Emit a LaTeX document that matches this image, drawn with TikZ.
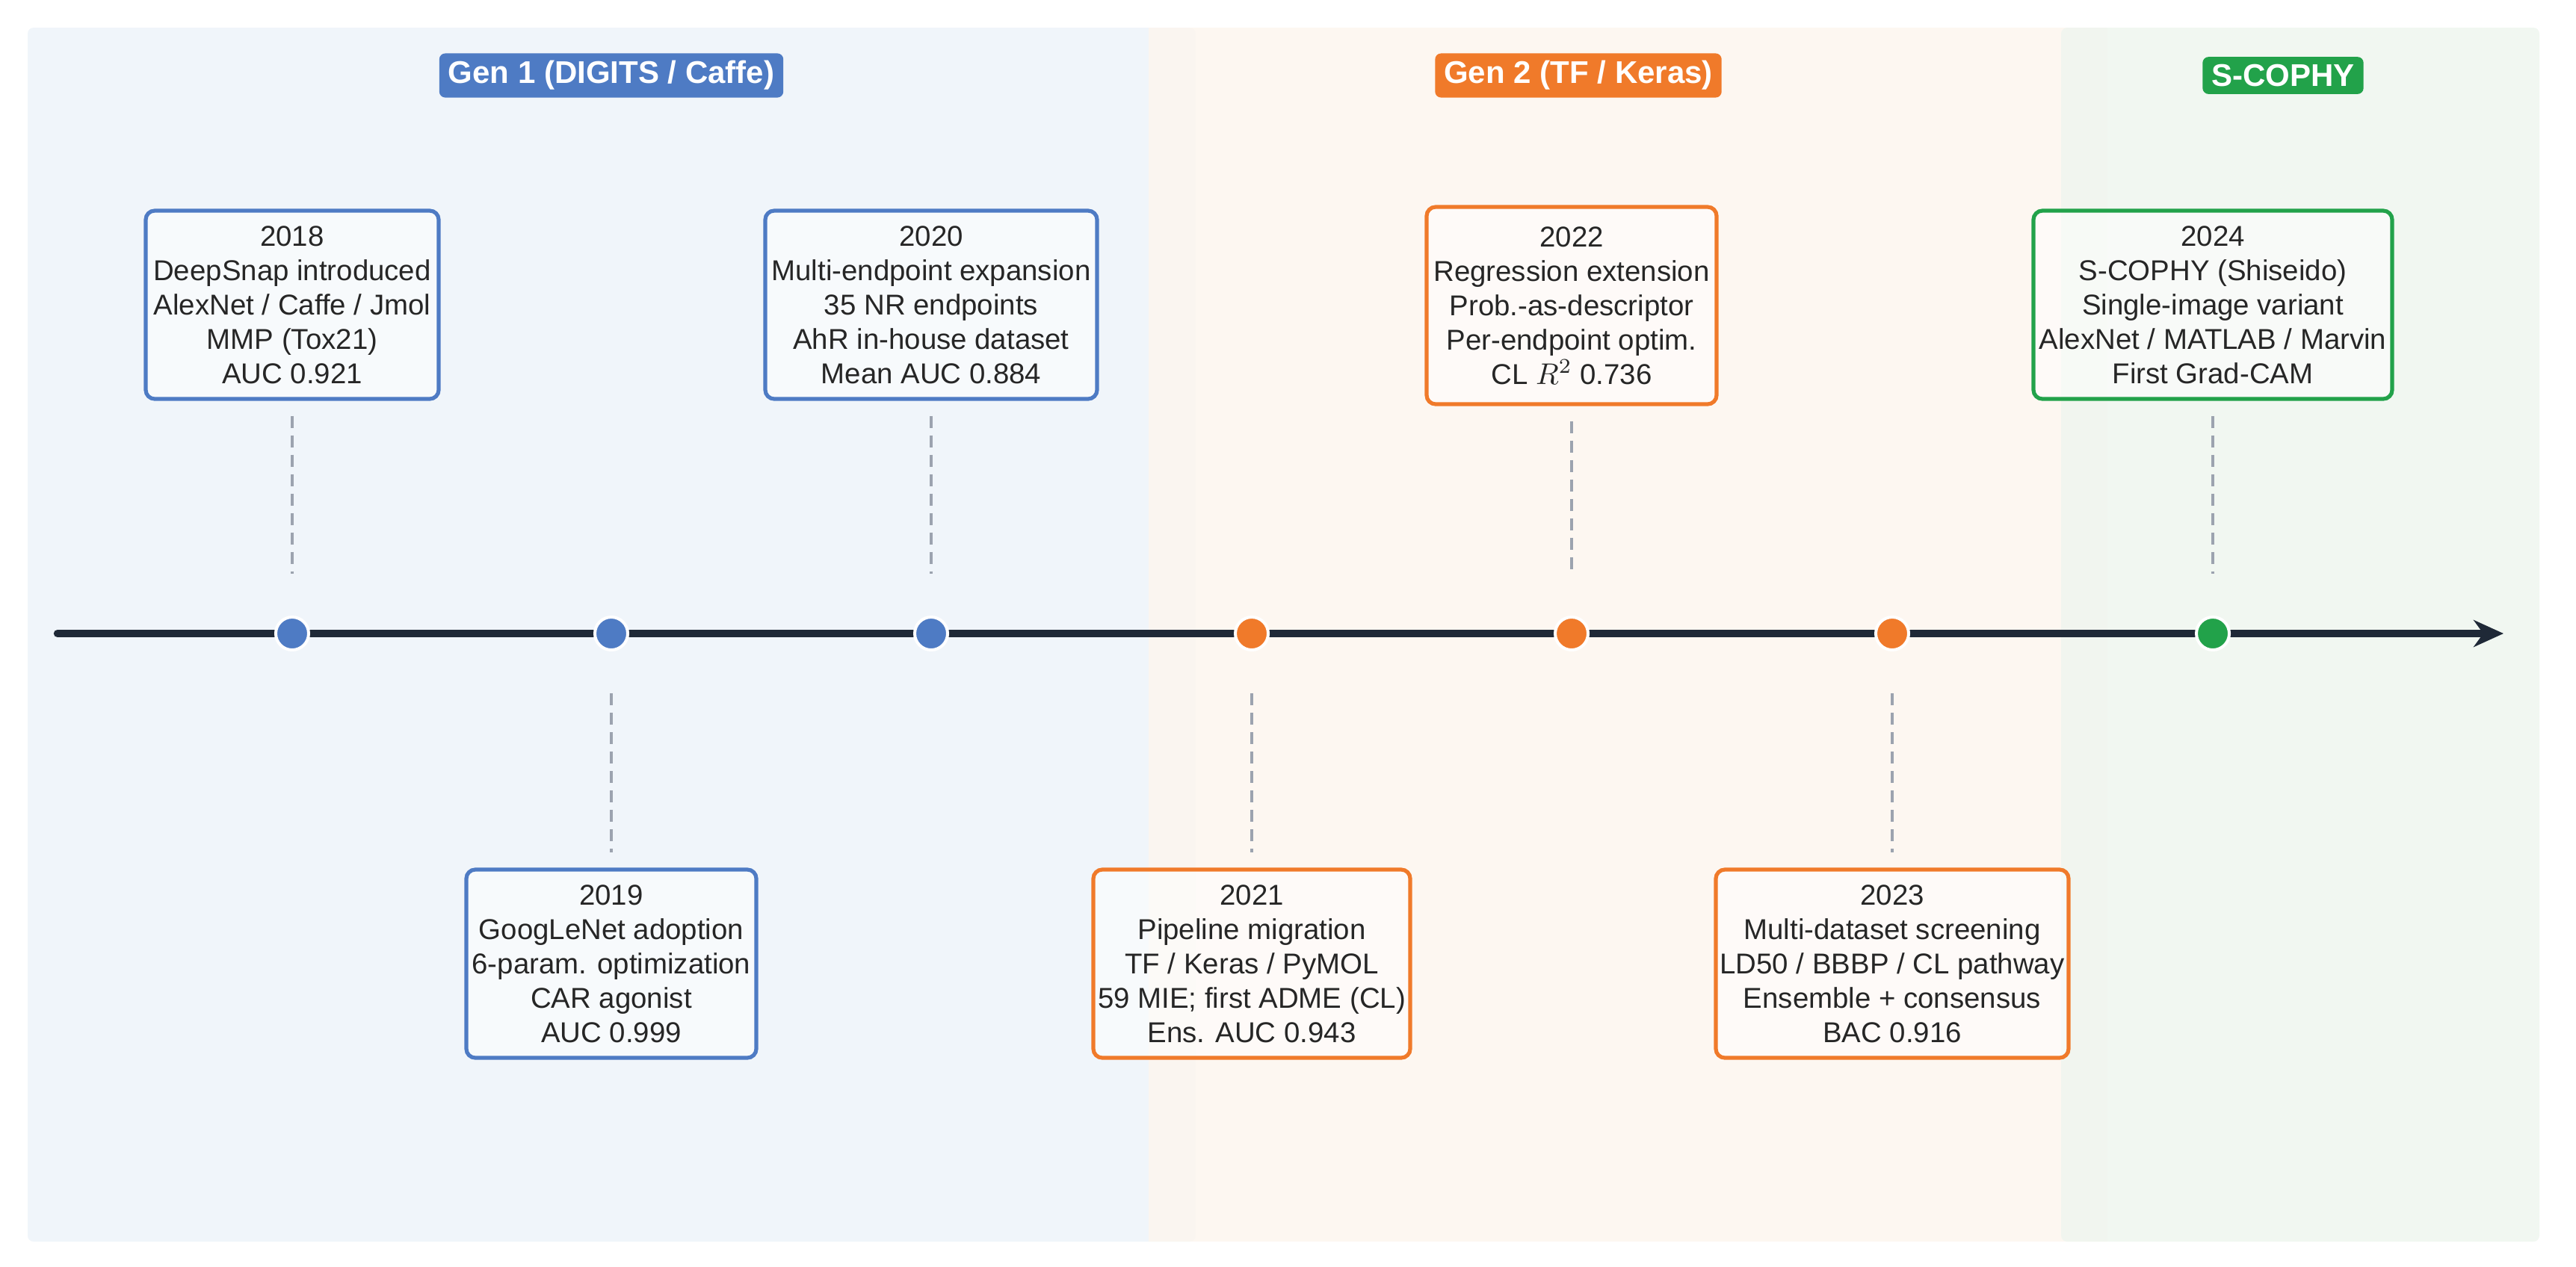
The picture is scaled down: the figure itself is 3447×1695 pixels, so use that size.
\documentclass[tikz,border=0pt]{standalone}
\usepackage{fontspec}
\setmainfont{Liberation Sans}
\usetikzlibrary{arrows.meta}
\definecolor{cblue}{HTML}{4E7BC4}
\definecolor{corange}{HTML}{F07A2A}
\definecolor{cgreen}{HTML}{22A24A}
\definecolor{bblue}{HTML}{F0F5FA}
\definecolor{borange}{HTML}{FDF5EE}
\definecolor{bgreen}{HTML}{EEF5EE}
\definecolor{cdark}{HTML}{1F2937}
\definecolor{cgrey}{HTML}{9CA3AF}
\tikzset{
  ev/.style={draw=#1, line width=1.3pt, rounded corners=3pt, fill=white, fill opacity=0.5, text opacity=1, align=center, font=\fontsize{9.6}{11.5}\selectfont, text=black!85, inner sep=0pt},
  dot/.style={circle, fill=#1, draw=white, line width=1pt, minimum size=11pt, inner sep=0pt},
  tag/.style={fill=#1, text=white, rounded corners=2pt, font=\bfseries\fontsize{10.5}{12}\selectfont, inner xsep=3pt, inner ysep=2.5pt},
  con/.style={cgrey, line width=0.9pt, dash pattern=on 4pt off 2.5pt},
}
\begin{document}
\begin{tikzpicture}[x=0.25pt,y=-0.25pt]
\useasboundingbox (0,0) rectangle (3447,1695);
\fill[bblue, rounded corners=2pt] (37,37) rectangle (1600,1662);
\fill[borange, opacity=0.8] (1537,37) rectangle (2820,1662);
\fill[bgreen, opacity=0.8, rounded corners=2pt] (2758,37) rectangle (3398,1662);
\node[tag=cblue] (g1) at (818,101) {Gen 1 (DIGITS / Caffe)};
\node[tag=corange] (g2) at (2112,101) {Gen 2 (TF / Keras)};
\node[tag=cgreen] (g3) at (3055,101) {S-COPHY};
\coordinate (ls) at (77,848);
\coordinate (le) at (3350,848);
\draw[cdark, line width=2.6pt, line cap=round, -{Stealth[length=10pt,width=9pt]}] (ls) -- (le);
\node[dot=cblue] (d1) at (391,848) {};
\node[dot=cblue] (d2) at (818,848) {};
\node[dot=cblue] (d3) at (1246,848) {};
\node[dot=corange] (d4) at (1675,848) {};
\node[dot=corange] (d5) at (2103,848) {};
\node[dot=corange] (d6) at (2532,848) {};
\node[dot=cgreen] (d7) at (2961,848) {};
\node[ev=cblue, minimum width=98pt, minimum height=63pt] (b1) at (391,408) {2018\\DeepSnap introduced\\AlexNet / Caffe / Jmol\\MMP (Tox21)\\AUC 0.921};
\node[ev=cblue, minimum width=111pt, minimum height=63pt] (b3) at (1246,408) {2020\\Multi-endpoint expansion\\35 NR endpoints\\AhR in-house dataset\\Mean AUC 0.884};
\node[ev=corange, minimum width=97pt, minimum height=66pt] (b5) at (2103,409) {2022\\Regression extension\\Prob.-as-descriptor\\Per-endpoint optim.\\CL $R^2$ 0.736};
\node[ev=cgreen, minimum width=120pt, minimum height=63pt] (b7) at (2961,408) {2024\\S-COPHY (Shiseido)\\Single-image variant\\AlexNet / MATLAB / Marvin\\First Grad-CAM};
\node[ev=cblue, minimum width=97pt, minimum height=63pt] (b2) at (818,1290) {2019\\GoogLeNet adoption\\6-param. optimization\\CAR agonist\\AUC 0.999};
\node[ev=corange, minimum width=106pt, minimum height=63pt] (b4) at (1675,1290) {2021\\Pipeline migration\\TF / Keras / PyMOL\\59 MIE; first ADME (CL)\\Ens. AUC 0.943};
\node[ev=corange, minimum width=118pt, minimum height=63pt] (b6) at (2532,1290) {2023\\Multi-dataset screening\\LD50 / BBBP / CL pathway\\Ensemble + consensus\\BAC 0.916};
\foreach \i in {1,3,5,7} {\draw[con] ([yshift=-5pt]b\i.south) -- ([yshift=14pt]d\i.north);}
\foreach \i in {2,4,6} {\draw[con] ([yshift=-14pt]d\i.south) -- ([yshift=5pt]b\i.north);}
\end{tikzpicture}
\end{document}
